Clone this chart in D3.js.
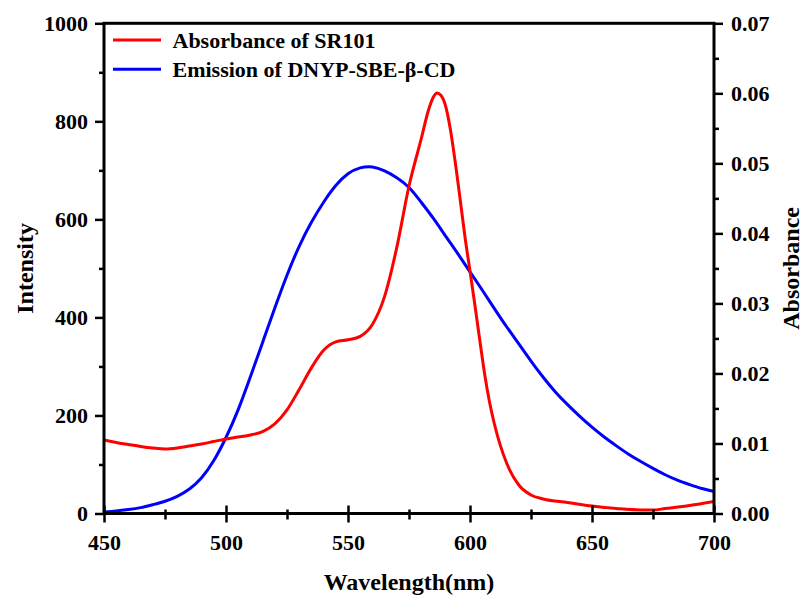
<!DOCTYPE html>
<html>
<head>
<meta charset="utf-8">
<script src="https://cdn.jsdelivr.net/npm/d3@7"></script>
<style>
  html, body { margin: 0; padding: 0; background: #fff; }
  svg { display: block; }
  text { font-family: "Liberation Serif", "Times New Roman", serif; font-weight: bold; fill: #000; }
</style>
</head>
<body>
<svg id="chart" width="804" height="597"></svg>
<script>
// ---- data ----
const absWavelength = [450, 455, 460, 465, 470, 475, 480, 485, 490, 495, 500, 505, 510, 515, 520, 525, 530, 535, 540, 545, 550, 555, 560, 565, 570, 575, 580, 583, 585, 586.5, 588, 590, 592, 594, 596, 598, 600, 602, 604, 606, 608, 610, 615, 620, 625, 630, 640, 650, 660, 670, 675, 680, 690, 700];
const absorbance    = [0.01050, 0.01014, 0.00985, 0.00957, 0.00935, 0.00921, 0.00935, 0.00964, 0.00992, 0.01028, 0.01064, 0.01092, 0.01121, 0.01170, 0.01280, 0.01480, 0.01770, 0.02080, 0.02330, 0.02450, 0.02480, 0.02530, 0.02700, 0.03100, 0.03800, 0.04677, 0.05348, 0.05762, 0.05948, 0.06005, 0.05976, 0.05819, 0.05476, 0.05005, 0.04477, 0.03934, 0.03463, 0.02977, 0.02478, 0.01992, 0.01592, 0.01278, 0.00721, 0.00407, 0.00264, 0.00207, 0.00157, 0.00107, 0.00071, 0.00050, 0.00050, 0.00071, 0.00114, 0.00171];

const emWavelength = [450, 455, 460, 465, 470, 475, 480, 485, 490, 495, 500, 505, 510, 515, 520, 525, 530, 535, 540, 545, 550, 555, 560, 565, 570, 575, 580, 585, 590, 595, 600, 605, 610, 615, 620, 625, 630, 635, 640, 645, 650, 655, 660, 665, 670, 675, 680, 685, 690, 695, 700];
const emission     = [3, 5, 8, 12, 18, 25, 35, 50, 73, 108, 155, 212, 279, 349, 419, 486, 545, 594, 635, 669, 693, 705, 707, 699, 685, 665, 635, 602, 566, 530, 493, 456, 418, 381, 346, 311, 278, 248, 222, 198, 176, 156, 138, 121, 106, 92, 79, 68, 59, 51, 45];

const xTicks = [450, 500, 550, 600, 650, 700];
const xMinorTicks = [475, 525, 575, 625, 675];
const yLeftTicks = [0, 200, 400, 600, 800, 1000];
const yLeftMinorTicks = [100, 300, 500, 700, 900];
const yRightTicks = [0, 0.01, 0.02, 0.03, 0.04, 0.05, 0.06, 0.07];
const yRightMinorTicks = [0.005, 0.015, 0.025, 0.035, 0.045, 0.055, 0.065];

const legendLabels = ["Absorbance of SR101", "Emission of DNYP-SBE-\u03b2-CD"];
const seriesColors = ["#ff0000", "#0000ff"];

// ---- layout ----
const svg = d3.select("#chart");
const L = 104, R = 714, T = 23.3, B = 513.5;

const x = d3.scaleLinear().domain([450, 700]).range([L, R]);
const yL = d3.scaleLinear().domain([0, 1000]).range([B, T]);
const yR = d3.scaleLinear().domain([0, 0.07]).range([B, T]);

const emData = emWavelength.map((w, i) => [w, emission[i]]);
const absData = absWavelength.map((w, i) => [w, absorbance[i]]);

svg.append("clipPath").attr("id", "clip")
  .append("rect").attr("x", L).attr("y", T).attr("width", R - L).attr("height", B - T);

const g = svg.append("g").attr("clip-path", "url(#clip)");
g.append("path")
  .datum(emData)
  .attr("fill", "none").attr("stroke", seriesColors[1]).attr("stroke-width", 3)
  .attr("d", d3.line().x(d => x(d[0])).y(d => yL(d[1])).curve(d3.curveNatural));
g.append("path")
  .datum(absData)
  .attr("fill", "none").attr("stroke", seriesColors[0]).attr("stroke-width", 3)
  .attr("d", d3.line().x(d => x(d[0])).y(d => yR(d[1])).curve(d3.curveMonotoneX));

// axes
const fontSize = 22;
function styleAxis(sel) {
  sel.select(".domain").remove();
  sel.selectAll(".tick line").attr("stroke", "#000").attr("stroke-width", 2.5);
  sel.selectAll(".tick text").style("font-size", fontSize + "px")
    .style("font-family", "'Liberation Serif', serif").style("font-weight", "bold");
}

const gx = svg.append("g").attr("transform", `translate(0,${B})`)
  .call(d3.axisBottom(x).tickValues(xTicks).tickSize(9).tickPadding(12).tickFormat(d3.format("d")));
styleAxis(gx);
gx.selectAll(".tick line").attr("y1", -8);
const gxm = svg.append("g").attr("transform", `translate(0,${B})`)
  .call(d3.axisBottom(x).tickValues(xMinorTicks).tickSize(6).tickFormat(""));
styleAxis(gxm);
gxm.selectAll(".tick line").attr("y1", -4);

const gyl = svg.append("g").attr("transform", `translate(${L},0)`)
  .call(d3.axisLeft(yL).tickValues(yLeftTicks).tickSize(9).tickPadding(7).tickFormat(d3.format("d")));
styleAxis(gyl);
const gylm = svg.append("g").attr("transform", `translate(${L},0)`)
  .call(d3.axisLeft(yL).tickValues(yLeftMinorTicks).tickSize(5).tickFormat(""));
styleAxis(gylm);

const gyr = svg.append("g").attr("transform", `translate(${R},0)`)
  .call(d3.axisRight(yR).tickValues(yRightTicks).tickSize(9).tickPadding(8).tickFormat(d3.format(".2f")));
styleAxis(gyr);
const gyrm = svg.append("g").attr("transform", `translate(${R},0)`)
  .call(d3.axisRight(yR).tickValues(yRightMinorTicks).tickSize(5).tickFormat(""));
styleAxis(gyrm);

svg.append("rect").attr("x", L).attr("y", T).attr("width", R - L).attr("height", B - T)
  .attr("fill", "none").attr("stroke", "#000").attr("stroke-width", 3);

svg.append("text").attr("x", (L + R) / 2).attr("y", 590).attr("text-anchor", "middle")
  .style("font-size", "24px").text("Wavelength(nm)");
svg.append("text").attr("transform", `translate(33,${(T + B) / 2}) rotate(-90)`)
  .attr("text-anchor", "middle").style("font-size", "24px").text("Intensity");
svg.append("text").attr("transform", `translate(799,${(T + B) / 2}) rotate(-90)`)
  .attr("text-anchor", "middle").style("font-size", "24px").text("Absorbance");

const legend = svg.append("g");
legendLabels.forEach((lab, i) => {
  const yy = 40 + i * 29.3;
  legend.append("line").attr("x1", 113).attr("x2", 161).attr("y1", yy).attr("y2", yy)
    .attr("stroke", seriesColors[i]).attr("stroke-width", 3);
  legend.append("text").attr("x", 172.5).attr("y", yy + 7.5)
    .style("font-size", "22px").text(lab);
});
</script>
</body>
</html>
